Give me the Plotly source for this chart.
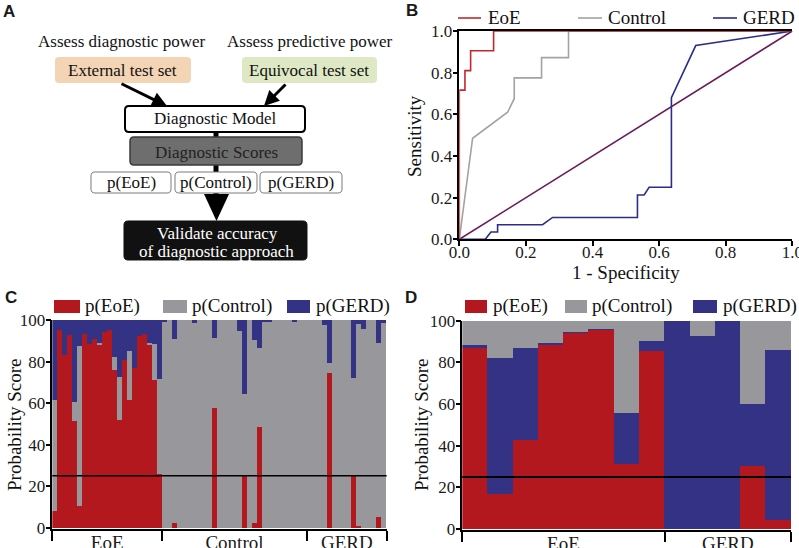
import plotly.graph_objects as go

W, H = 799, 548
def px(x): return x / W
def py(y): return 1 - y / H

SERIF = "Liberation Serif"
SANS = "Liberation Sans"
RED, GRAY, BLUE = "#B2181E", "#98979B", "#343284"

# ---------------- Panel B: ROC data ----------------
roc_eoe_fpr = [0, 0, 0.017, 0.017, 0.034, 0.034, 0.103, 0.103, 1.0]
roc_eoe_tpr = [0, 0.716, 0.716, 0.81, 0.81, 0.905, 0.905, 1.0, 1.0]
roc_ctrl_fpr = [0, 0.04, 0.145, 0.165, 0.165, 0.247, 0.247, 0.328, 0.328, 1.0]
roc_ctrl_tpr = [0, 0.485, 0.61, 0.675, 0.775, 0.775, 0.872, 0.872, 1.0, 1.0]
roc_gerd_fpr = [0, 0.078, 0.095, 0.115, 0.115, 0.25, 0.28, 0.535, 0.535, 0.555, 0.57, 0.637, 0.637, 0.70, 0.71, 1.0]
roc_gerd_tpr = [0, 0, 0.035, 0.035, 0.07, 0.07, 0.105, 0.105, 0.213, 0.213, 0.25, 0.25, 0.68, 0.89, 0.93, 1.0]
chance_line = [0, 1]

# ---------------- Panel C: external test set ----------------
groups_c = ["EoE", "Control", "GERD"]
group_sizes_c = [22, 29, 16]
eoe_c = [8.0, 95.2, 83.1, 92.8, 51.4, 10.6, 93.1, 88.5, 90.7, 88.3, 94.4, 95.2, 76.0, 51.8, 80.7, 61.5, 76.7, 92.5, 93.1, 88.3, 71.1, 25.7,
         0, 0, 2.1, 0, 0, 0, 0, 0, 0, 0, 57.5, 0, 0, 0, 0, 0, 24.9, 0, 2.1, 48.6, 0, 0, 0, 0, 0, 0, 0, 0, 0,
         0, 0, 0, 0, 74.6, 0, 0, 0, 0, 24.9, 0.8, 0, 0, 0, 5.3, 0]
control_c = [53.5, 0, 0, 0, 9.0, 76.9, 0, 0, 0, 0.6, 0, 0, 6.3, 20.6, 0, 23.7, 0, 0, 0, 0.5, 17.3, 45.7,
             99.5, 100, 88.8, 100, 100, 100, 98.6, 100, 100, 100, 34.0, 100, 100, 100, 100, 94.7, 39.5, 100, 88.3, 37.8, 99.5, 99.0, 100, 100, 100, 100, 98.9, 100, 100,
             100, 100, 100, 97.6, 4.9, 100, 100, 100, 100, 47.3, 97.2, 95.7, 100, 100, 83.5, 98.5]
gerd_c = [38.5, 4.8, 16.9, 7.2, 39.6, 12.5, 6.9, 11.5, 9.3, 11.1, 5.6, 4.8, 17.7, 27.6, 19.3, 14.8, 23.3, 7.5, 6.9, 11.2, 11.6, 28.6,
          0.5, 0, 9.1, 0, 0, 0, 1.4, 0, 0, 0, 8.5, 0, 0, 0, 0, 5.3, 35.6, 0, 9.6, 13.6, 0.5, 1.0, 0, 0, 0, 0, 1.1, 0, 0,
          0, 0, 0, 2.4, 20.5, 0, 0, 0, 0, 27.8, 2.0, 4.3, 0, 0, 11.2, 1.5]

# ---------------- Panel D: equivocal test set ----------------
groups_d = ["EoE", "GERD"]
group_sizes_d = [8, 5]
eoe_d = [87.0, 17.1, 43.0, 88.8, 94.4, 96.0, 31.3, 85.5, 0, 0, 0, 30.6, 4.3]
gerd_d = [1.6, 65.1, 44.2, 0.8, 0.5, 0.3, 24.5, 4.7, 100, 92.8, 100, 29.7, 81.6]
control_d = [11.4, 17.8, 12.8, 10.4, 5.1, 3.7, 44.2, 9.8, 0, 7.2, 0, 39.7, 14.1]

threshold = 25
ticks_b = [0, 0.2, 0.4, 0.6, 0.8, 1.0]
ticks_prob = [0, 20, 40, 60, 80, 100]

fig = go.Figure()

# ROC traces
for xs, ys, col, name in [(chance_line, chance_line, "#6A1B5C", "Chance"),
                          (roc_ctrl_fpr, roc_ctrl_tpr, "#A3A3A3", "Control"),
                          (roc_gerd_fpr, roc_gerd_tpr, "#2B2C8C", "GERD"),
                          (roc_eoe_fpr, roc_eoe_tpr, "#C1272D", "EoE")]:
    fig.add_trace(go.Scatter(x=xs, y=ys, mode="lines", name=name, showlegend=False,
                             line=dict(color=col, width=1.6), xaxis="x", yaxis="y", cliponaxis=False))

# Panel C bars
idx_c = list(range(len(eoe_c)))
for vals, col, name in [(eoe_c, RED, "p(EoE)"), (control_c, GRAY, "p(Control)"), (gerd_c, BLUE, "p(GERD)")]:
    fig.add_trace(go.Bar(x=idx_c, y=vals, marker=dict(color=col, line=dict(width=0)), name=name,
                         showlegend=False, xaxis="x2", yaxis="y2"))

# Panel D bars (order: EoE, GERD, Control)
idx_d = list(range(len(eoe_d)))
for vals, col, name in [(eoe_d, RED, "p(EoE)"), (gerd_d, BLUE, "p(GERD)"), (control_d, GRAY, "p(Control)")]:
    fig.add_trace(go.Bar(x=idx_d, y=vals, marker=dict(color=col, line=dict(width=0)), name=name,
                         showlegend=False, xaxis="x3", yaxis="y3"))

def group_ticks(sizes):
    centers, bounds, start = [], [-0.5], 0
    for s in sizes:
        centers.append(start + (s - 1) / 2)
        start += s
        bounds.append(start - 0.5)
    return centers, bounds

cen_c, bnd_c = group_ticks(group_sizes_c)
cen_d, bnd_d = group_ticks(group_sizes_d)

tickfont = dict(family=SERIF, size=17, color="#1a1a1a")
catfont = dict(family=SERIF, size=19, color="#1a1a1a")
axis_common = dict(showline=True, linecolor="black", linewidth=1.5, ticks="outside", ticklen=5,
                   tickwidth=1.5, tickcolor="black", showgrid=False, zeroline=False, tickfont=tickfont,
                   automargin=False, ticklabeloverflow="allow")
cat_common = dict(showline=True, linecolor="black", linewidth=1.5, showgrid=False, zeroline=False,
                  ticks="", ticklabelstandoff=-5, tickfont=catfont, automargin=False,
                  ticklabeloverflow="allow")

fig.update_layout(
    template="none",
    width=W, height=H, margin=dict(l=0, r=0, t=0, b=0, pad=0, autoexpand=False),
    paper_bgcolor="white", plot_bgcolor="rgba(0,0,0,0)",
    barmode="stack", bargap=0, showlegend=False,
    xaxis=dict(domain=[px(459.3), px(792.3)], range=[0, 1], anchor="y", mirror=True, ticklabelstandoff=-8,
               tickvals=ticks_b, ticktext=["%.1f" % t for t in ticks_b], **axis_common),
    yaxis=dict(domain=[py(239.3), py(31)], range=[0, 1], anchor="x", ticklabelstandoff=-3,
               tickvals=ticks_b, ticktext=["%.1f" % t for t in ticks_b], **axis_common),
    xaxis2=dict(domain=[px(52.3), px(386.7)], range=[-0.5, len(eoe_c) - 0.5], anchor="y2",
                tickvals=cen_c, ticktext=groups_c,
                minor=dict(tickvals=bnd_c, ticks="outside", ticklen=10, tickwidth=1.5, tickcolor="black"),
                **cat_common),
    yaxis2=dict(domain=[py(529.4), py(320)], range=[-0.8, 100], anchor="x2", tickvals=ticks_prob,
                ticklabelstandoff=-3, **axis_common),
    xaxis3=dict(domain=[px(462.3), px(791)], range=[-0.5, len(eoe_d) - 0.5], anchor="y3",
                tickvals=cen_d, ticktext=groups_d,
                minor=dict(tickvals=bnd_d, ticks="outside", ticklen=10, tickwidth=1.5, tickcolor="black"),
                **cat_common),
    yaxis3=dict(domain=[py(530.3), py(320.7)], range=[-0.6, 100], anchor="x3", tickvals=ticks_prob,
                ticklabelstandoff=-3, **axis_common),
)

shapes, annots = [], []

def text(x, y, s, size=17, color="#111", anchor="center", family=SERIF, angle=0, bold=False):
    if bold:
        s = "<b>%s</b>" % s
    annots.append(dict(x=px(x), y=py(y), xref="paper", yref="paper", text=s, showarrow=False,
                       xanchor=anchor, yanchor="middle", textangle=angle,
                       font=dict(family=family, size=size, color=color)))

def rrect(x0, y0, x1, y1, fill, line="rgba(0,0,0,0)", lw=0, r=4):
    pts = [("M", x0 + r, y0), ("L", x1 - r, y0), ("Q", x1, y0, x1, y0 + r), ("L", x1, y1 - r),
           ("Q", x1, y1, x1 - r, y1), ("L", x0 + r, y1), ("Q", x0, y1, x0, y1 - r), ("L", x0, y0 + r),
           ("Q", x0, y0, x0 + r, y0)]
    d = ""
    for p in pts:
        cmd = p[0]
        coords = p[1:]
        parts = []
        for i in range(0, len(coords), 2):
            parts.append("%.5f,%.5f" % (px(coords[i]), py(coords[i + 1])))
        d += cmd + " " + " ".join(parts) + " "
    shapes.append(dict(type="path", path=d + "Z", xref="paper", yref="paper",
                       fillcolor=fill, line=dict(color=line, width=lw)))

# ---------------- Panel A: flowchart ----------------
shapes.append(dict(type="line", xref="paper", yref="paper", x0=px(216), x1=px(216), y0=py(130), y1=py(200),
                   line=dict(color="black", width=5)))
rrect(55, 57, 191, 83, "#F3D5B6")
rrect(242, 57, 377, 83, "#DEE8C5")
rrect(125, 106, 305, 132, "white", "black", 2)
rrect(130, 137, 302, 165, "#6E6E6E", "#3a3a3a", 1.5)
rrect(91, 172, 171, 193, "white", "#7a7a7a", 1)
rrect(175, 172, 257, 193, "white", "#7a7a7a", 1)
rrect(260, 172, 342, 193, "white", "#7a7a7a", 1)
shapes.append(dict(type="path", xref="paper", yref="paper", fillcolor="black", line=dict(width=0),
                   path="M %.5f,%.5f L %.5f,%.5f L %.5f,%.5f Z" % (px(204), py(194), px(229), py(194), px(216.5), py(221))))
rrect(124, 221, 307, 260, "#111111", "#111111", 1)

text(121, 42, "Assess diagnostic power")
text(310, 42, "Assess predictive power")
text(123, 70, "External test set")
text(309, 70, "Equivocal test set")
text(215, 119, "Diagnostic Model")
text(216, 152, "Diagnostic Scores", color="#222")
text(131, 183, "p(EoE)")
text(216, 183, "p(Control)")
text(301, 183, "p(GERD)")
text(218, 233, "Validate accuracy", color="white")
text(216, 251, "of diagnostic approach", color="white")

for (tx, ty, hx, hy) in [(120, 83, 167, 106), (287, 83, 264, 106)]:
    annots.append(dict(x=px(hx), y=py(hy), xref="paper", yref="paper", ax=tx - hx, ay=ty - hy,
                       axref="pixel", ayref="pixel", text="", showarrow=True, arrowhead=2,
                       arrowsize=1, arrowwidth=3, arrowcolor="black", standoff=0, startstandoff=0))

# panel letters
for (lx, ly, s) in [(9, 11, "A"), (412, 10, "B"), (11, 297, "C"), (411, 298, "D")]:
    text(lx, ly, s, size=17, family=SANS, color="#1a1a1a", bold=True)

# ---------------- Panel B legend & titles ----------------
for (x0, x1, tx, col, s) in [(458, 481, 486, "#C1272D", "EoE"), (578, 602, 606, "#A3A3A3", "Control"),
                             (713, 737, 741, "#2B2C8C", "GERD")]:
    shapes.append(dict(type="line", xref="paper", yref="paper", x0=px(x0), x1=px(x1), y0=py(18), y1=py(18),
                       line=dict(color=col, width=1.6)))
    text(tx, 17, s, size=19, anchor="left")
text(414, 136, "Sensitivity", size=19, angle=-90)
text(626, 272, "1 - Specificity", size=19)

# ---------------- Panel C/D legends, titles, threshold lines ----------------
for (items, ly) in [([(54, 80, 83, RED, "p(EoE)"), (163, 187, 190, GRAY, "p(Control)"), (287, 310, 314, BLUE, "p(GERD)")], 306),
                    ([(465, 487, 491, RED, "p(EoE)"), (565, 587, 590, GRAY, "p(Control)"), (693, 717, 721, BLUE, "p(GERD)")], 306)]:
    for (x0, x1, tx, col, s) in items:
        shapes.append(dict(type="rect", xref="paper", yref="paper", x0=px(x0), x1=px(x1), y0=py(ly - 6), y1=py(ly + 7),
                           fillcolor=col, line=dict(width=0)))
        text(tx, ly, s, size=19, anchor="left")

text(14, 425, "Probability Score", size=19, angle=-90)
text(421, 425, "Probability Score", size=19, angle=-90)

for xr, yr, w in [("x2", "y2", 1.5), ("x3", "y3", 2)]:
    shapes.append(dict(type="line", xref=xr + " domain", yref=yr, x0=0, x1=1, y0=threshold, y1=threshold,
                       line=dict(color="black", width=w), layer="above"))

fig.update_layout(shapes=shapes, annotations=annots)
fig.write_html("out.html", config={"displayModeBar": False},
               post_script="document.body.style.margin='0px';document.body.style.padding='0px';")
